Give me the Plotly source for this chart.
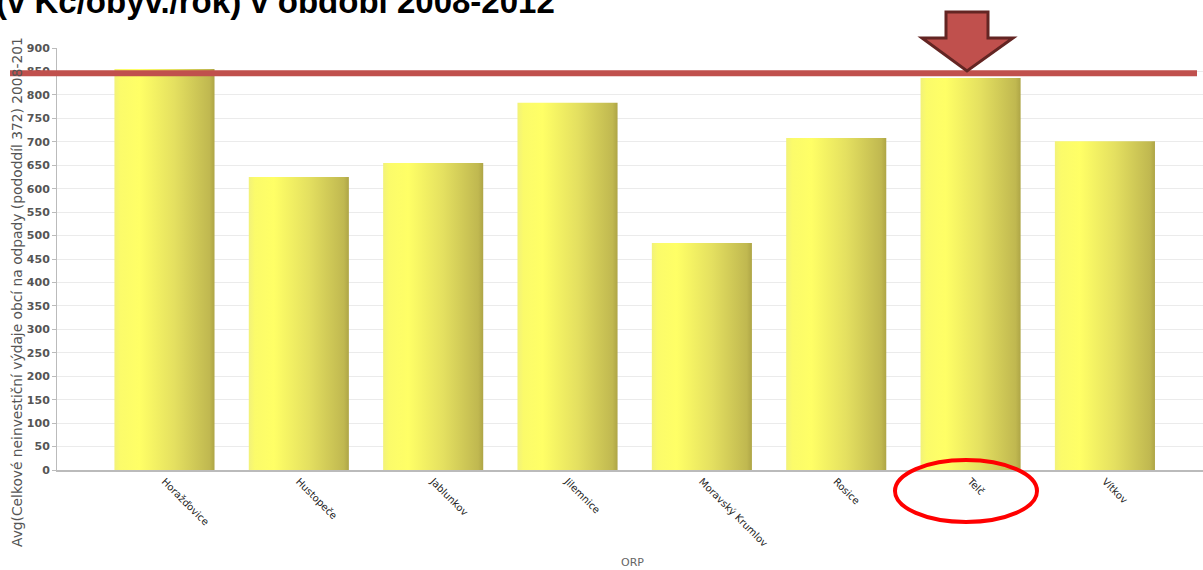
import plotly.graph_objects as go

categories = ["Horažďovice", "Hustopeče", "Jablunkov", "Jilemnice",
              "Moravský Krumlov", "Rosice", "Telč", "Vítkov"]
values = [855, 625, 655, 783, 484, 708, 836, 701]
y_ticks = list(range(0, 901, 50))
reference_value = 846
title_text = "(v Kč/obyv./rok) v období 2008-2012"
y_title = "Avg(Celkové neinvestiční výdaje obcí na odpady (pododdíl 372) 2008-201"
x_title = "ORP"

W, H = 1203, 570
L, R, T, B = 57, 0, 48, 100
bar_w = 0.745

fig = go.Figure()
for i, (c, v) in enumerate(zip(categories, values)):
    x0, x1 = i - bar_w / 2, i + bar_w / 2
    fig.add_trace(go.Scatter(
        x=[x0, x1, x1, x0, x0], y=[0, 0, v, v, 0],
        mode="lines", fill="toself", line=dict(width=0),
        fillgradient=dict(type="horizontal",
                          colorscale=[[0, "#f2f27a"], [0.06, "#fbfb6a"], [0.25, "#ffff66"],
                                      [0.6, "#e4e060"], [0.95, "#c0b850"], [1, "#aea546"]]),
        name=c, hoverinfo="text", text=f"{c}: {v}", showlegend=False))

plot_w = W - L - R
plot_h = H - T - B

def px(xp):
    return (xp - L) / plot_w

def py(yp):
    return (H - B - yp) / plot_h

# reference line
fig.add_shape(type="line", xref="paper", yref="y", x0=px(10), x1=px(1197),
              y0=reference_value, y1=reference_value,
              line=dict(color="#c0504d", width=6))

# arrow
ax = [946, 988, 988, 1013, 967, 922, 946]
ay = [12, 12, 38, 38, 71, 38, 38]
path = "M " + " L ".join(f"{px(a):.5f},{py(b):.5f}" for a, b in zip(ax, ay)) + " Z"
fig.add_shape(type="path", xref="paper", yref="paper", path=path,
              fillcolor="#c0504d", line=dict(color="#632523", width=3))

# ellipse
fig.add_shape(type="circle", xref="paper", yref="paper",
              x0=px(895), x1=px(1037), y0=py(522), y1=py(460),
              line=dict(color="#ff0000", width=4))

fig.add_annotation(text=f"<b>{title_text}</b>", xref="paper", yref="paper",
                   x=px(-6), y=py(22), xanchor="left", yanchor="bottom",
                   showarrow=False, font=dict(family="Liberation Sans, Arial", size=33, color="#000"))
fig.add_annotation(text=y_title, xref="paper", yref="paper", textangle=-90,
                   x=px(17), y=py(549), xanchor="center", yanchor="bottom",
                   showarrow=False, font=dict(family="DejaVu Sans, Verdana", size=13.8, color="#555"))
fig.add_annotation(text=x_title, xref="paper", yref="paper",
                   x=px(632), y=py(562), xanchor="center", yanchor="middle",
                   showarrow=False, font=dict(family="DejaVu Sans, Verdana", size=11, color="#666"))

fig.update_layout(
    width=W, height=H, margin=dict(l=L, r=R, t=T, b=B),
    plot_bgcolor="white", paper_bgcolor="white",
    xaxis=dict(range=[-0.80, 7.73], tickvals=list(range(len(categories))),
               ticktext=categories, tickangle=45, showgrid=False, zeroline=False,
               showline=True, linecolor="#bbbbbb", linewidth=1.5,
               tickfont=dict(family="DejaVu Sans, Verdana", size=10, color="#222"), ticks=""),
    yaxis=dict(range=[0, 900], tickvals=y_ticks, showgrid=True, gridcolor="#ebebeb",
               zeroline=False, showline=True, linecolor="#bbbbbb", linewidth=1,
               ticks="outside", ticklen=4, tickcolor="#bbbbbb",
               tickfont=dict(family="DejaVu Sans, Verdana", size=11, color="#555", weight="bold")),
)

fig.write_html("out.html", config={"displayModeBar": False},
               post_script="document.body.style.margin='0';")
